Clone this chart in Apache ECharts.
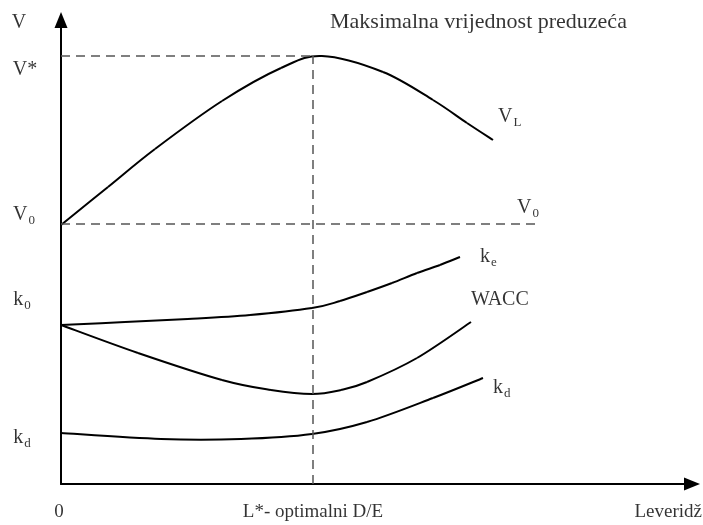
<!DOCTYPE html>
<html>
<head>
<meta charset="utf-8">
<script src="https://cdn.jsdelivr.net/npm/echarts@6/dist/echarts.min.js"></script>
<style>html,body{margin:0;padding:0;background:#fff}#c{width:703px;height:525px}</style>
</head>
<body>
<div id="c"></div>
<script>
// Conceptual chart: values in plot units (x = leverage, y = value / cost)
var X_MAX = 631, Y_MAX = 464;

var vL   = [[0,259],[47,297],[94,335],[161,383],[220,416],[261,428],[322,412],[372,384],[406,361],[432,344]];
var kE   = [[0,159],[64,162],[127,165],[189,169],[251,176],[279,183],[306,192],[331,201],[356,211],[379,219],[399,227]];
var wacc = [[0,159],[77,131],[161,104],[210,94],[251,90],[280,94],[306,102],[356,126],[410,162]];
var kD   = [[0,51],[100,45],[180,45],[251,50],[306,62],[372,86],[422,106]];

var vStarLine = [[0,428],[252,428]];
var lStarLine = [[252,0],[252,428]];
var v0Line    = [[0,260],[479,260]];

// text labels: [x, y, text, align, size]
var labels = [
  [-42, 461, 'V', 'center', 20],
  [-36, 414, 'V*', 'center', 20],
  [-37, 269, '{m|V}{s|0}', 'center', 20],
  [-39, 184, '{m|k}{s|0}', 'center', 20],
  [-39, 46, '{m|k}{s|d}', 'center', 20],
  [-2, -28, '0', 'center', 19],
  [252, -28, 'L*- optimalni D/E', 'center', 19],
  [641, -28, 'Leveridž', 'right', 19],
  [269, 462, 'Maksimalna vrijednost preduzeća', 'left', 22],
  [437, 367, '{m|V}{s|L}', 'left', 20],
  [456, 276, '{m|V}{s|0}', 'left', 20],
  [419, 227, '{m|k}{s|e}', 'left', 20],
  [410, 184, 'WACC', 'left', 20],
  [432, 96, '{m|k}{s|d}', 'left', 20]
];

var FONT = 'Liberation Serif';
var chart = echarts.init(document.getElementById('c'));

// smooth curve through the data points (Catmull-Rom -> cubic Bezier), in pixel space from axis coords
function curve(d) {
  return {
    type:'custom', coordinateSystem:'cartesian2d', data:d, clip:false, silent:true,
    renderItem:function(params, api){
      if (params.dataIndex !== 0) return null;
      var p = d.map(function(v){ return api.coord(v); });
      var kids = [];
      for (var i = 0; i < p.length - 1; i++) {
        var p0 = p[i-1] || p[i], p1 = p[i], p2 = p[i+1], p3 = p[i+2] || p[i+1];
        kids.push({type:'bezierCurve', shape:{
          x1:p1[0], y1:p1[1], x2:p2[0], y2:p2[1],
          cpx1:p1[0] + (p2[0]-p0[0])/6, cpy1:p1[1] + (p2[1]-p0[1])/6,
          cpx2:p2[0] - (p3[0]-p1[0])/6, cpy2:p2[1] - (p3[1]-p1[1])/6
        }, style:{stroke:'#000', lineWidth:2, fill:null}});
      }
      return {type:'group', children:kids};
    }
  };
}
function dashed(d) {
  return {type:'line', data:d, symbol:'none',
    lineStyle:{color:'#555', width:1.5, type:[9,6]}, clip:false};
}

chart.setOption({
  animation:false,
  grid:{left:61, right:11, top:20, bottom:41},
  xAxis:{type:'value', min:0, max:X_MAX, splitLine:{show:false},
    axisTick:{show:false}, axisLabel:{show:false},
    axisLine:{lineStyle:{color:'#000', width:2}, symbol:['none','triangle'], symbolSize:[13,16]}},
  yAxis:{type:'value', min:0, max:Y_MAX, splitLine:{show:false},
    axisTick:{show:false}, axisLabel:{show:false},
    axisLine:{lineStyle:{color:'#000', width:2}, symbol:['none','triangle'], symbolSize:[13,16]}},
  series:[
    dashed(vStarLine), dashed(lStarLine), dashed(v0Line),
    curve(vL), curve(kE), curve(wacc), curve(kD),
    {type:'scatter', symbolSize:0, clip:false, silent:true,
      data: labels.map(function(l){
        return {value:[l[0], l[1]], name:l[2],
          label:{align:l[3], fontSize:l[4],
            rich:{
              m:{fontFamily:FONT, fontSize:l[4], color:'#000'},
              s:{fontFamily:FONT, fontSize:13, color:'#000', padding:[12,0,0,1]}
            }}};
      }),
      label:{show:true, position:'inside', color:'#000', fontFamily:FONT,
        formatter:function(p){return p.name;}}
    }
  ]
});
</script>
</body>
</html>
